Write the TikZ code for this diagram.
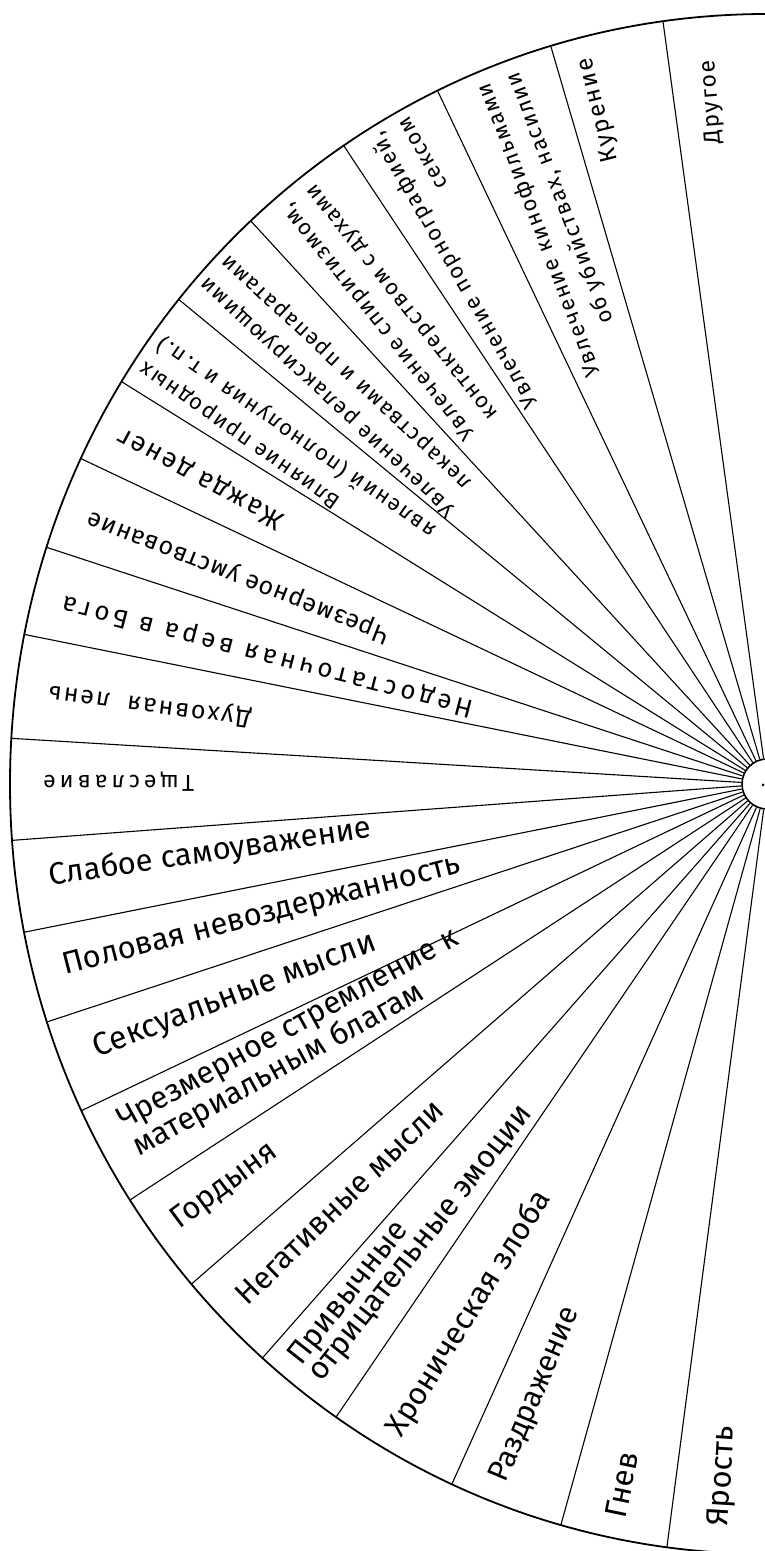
\documentclass[tikz,border=0pt]{standalone}
\usepackage{fontspec}
\setmainfont{Fira Sans}
\newfontfamily\upfont[LetterSpace=8]{Fira Sans}
\newfontfamily\upfontB[LetterSpace=4]{Fira Sans}
\newfontfamily\upfontC[LetterSpace=17]{Fira Sans}
\newfontfamily\upwide[LetterSpace=18]{Fira Sans}
\usetikzlibrary{calc}
\begin{document}
\begin{tikzpicture}[x=1pt,y=1pt,
  ray/.style={line width=1.1pt},
  rim/.style={line width=1.8pt},
  uplab/.style={anchor=east,align=right,inner sep=0pt},
  lowlab/.style={anchor=west,align=left,inner sep=0pt},
  small/.style={font=\upfont\fontsize{22}{31}\selectfont},
  mid/.style={font=\upfont\fontsize{27}{31}\selectfont},
  big/.style={font=\fontsize{31}{26}\selectfont}]
\useasboundingbox (0,0) rectangle (765,1551);
\coordinate (c) at (767,767);
\node[circle,draw,fill=white,minimum size=50pt,inner sep=0pt,line width=1.6pt] (hub) at (c) {};
\foreach \a [count=\i] in {97.9,106.6,115.8,124,133,141,148.5,155,162.1,168.8,176.6,184.2,191.1,198,205.1,212.7,220.5,228.2,235.3,245.4,254.2,262.4}{
  \coordinate (e\i) at ($(c)+(\a:757pt and 770pt)$);
  \draw[ray] (hub) -- (e\i);
}
\coordinate (top) at ($(c)+(90:757pt and 770pt)$);
\draw[rim] (top) arc[start angle=90,end angle=270,x radius=757pt,y radius=770pt];
\fill (763,766) circle (1.5pt);
% upper half
\node[uplab,font=\upfont\fontsize{23}{28}\selectfont,rotate=94.6] (l1) at ($(c)+(94.6:726pt)$) {Другое};
\node[uplab,font=\upfont\fontsize{24}{28}\selectfont,rotate=104] (l2) at ($(c)+(104:748pt)$) {Курение};
\node[uplab,small,rotate=110.8] (l3) at ($(c)+(110.8:755pt)$) {Увлечение кинофильмами\\об убийствах, насилии};
\node[uplab,small,rotate=120] (l4) at ($(c)+(120:758pt)$) {Увлечение порнографией,\\сексом};
\node[uplab,small,rotate=128.5] (l5) at ($(c)+(128.5:752pt)$) {Увлечение спиритизмом,\\контактерством с духами};
\node[uplab,small,rotate=137] (l6) at ($(c)+(137:755pt)$) {Увлечение релаксирующими\\лекарствами и препаратами};
\node[uplab,small,rotate=145] (l7) at ($(c)+(145:751pt)$) {Влияние природных\\явлений (полнолуния и т.\,п.)};
\node[uplab,mid,rotate=151.6] (l8) at ($(c)+(151.6:736pt)$) {Жажда денег};
\node[uplab,font=\upfontB\fontsize{25}{30}\selectfont,rotate=158.5] (l9) at ($(c)+(158.5:729pt)$) {Чрезмерное умствование};
\node[uplab,font=\upfontC\fontsize{26}{30}\selectfont,rotate=165.5] (l10) at ($(c)+(165.5:727pt)$) {Недостаточная вера в Бога};
\node[uplab,font=\upfont\fontsize{25}{30}\selectfont,rotate=172.7] (l11) at ($(c)+(172.7:724pt)$) {Духовная\ \ лень};
\node[uplab,font=\upwide\fontsize{23}{28}\selectfont,rotate=179.8] (l12) at ($(c)+(179.8:724pt)$) {Тщеславие};
% lower half
\node[lowlab,big,rotate=8.5] (l13) at ($(c)+(187.4:724pt)$) {Слабое самоуважение};
\node[lowlab,big,rotate=14.4] (l14) at ($(c)+(194.6:727pt)$) {Половая невоздержанность};
\node[lowlab,big,font=\fontsize{32}{26}\selectfont,rotate=21] (l15) at ($(c)+(201.6:723pt)$) {Сексуальные мысли};
\node[lowlab,big,rotate=28.9] (l16) at ($(c)+(208.9:730pt)$) {Чрезмерное стремление к\\материальным благам};
\node[lowlab,big,rotate=36.6] (l17) at ($(c)+(216.6:738pt)$) {Гордыня};
\node[lowlab,big,rotate=44.4] (l18) at ($(c)+(224.4:737pt)$) {Негативные мысли};
\node[lowlab,big,rotate=51.8] (l19) at ($(c)+(231.8:746pt)$) {Привычные\\отрицательные эмоции};
\node[lowlab,big,rotate=58] (l20) at ($(c)+(240.2:749pt)$) {Хроническая злоба};
\node[lowlab,font=\fontsize{30}{26}\selectfont,rotate=67] (l21) at ($(c)+(249:747pt)$) {Раздражение};
\node[lowlab,big,rotate=78.3] (l22) at ($(c)+(258.3:749pt)$) {Гнев};
\node[lowlab,big,rotate=86.4] (l23) at ($(c)+(266.4:744pt)$) {Ярость};
\end{tikzpicture}
\end{document}
